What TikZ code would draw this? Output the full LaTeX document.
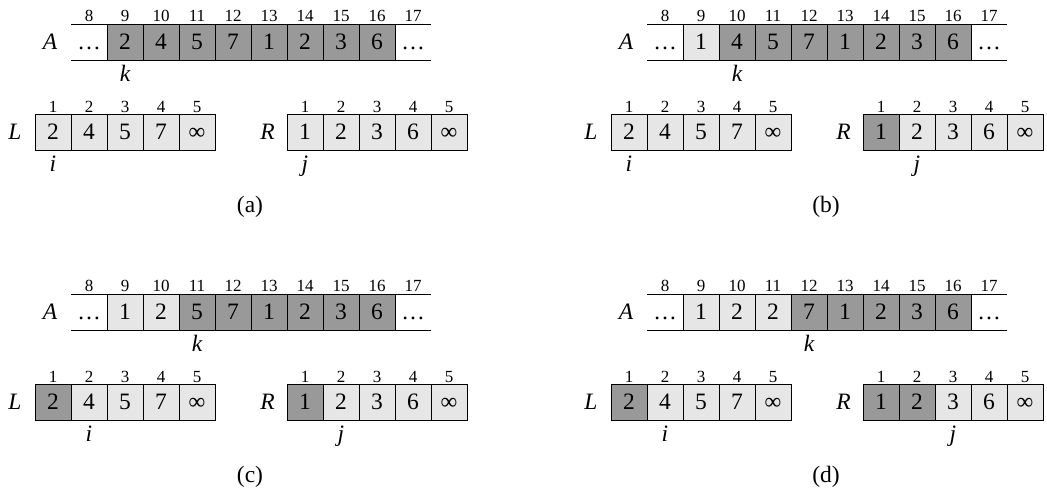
\documentclass[tikz,border=0pt]{standalone}
\usepackage{fontspec}
\setmainfont{Liberation Serif}
\definecolor{dk}{RGB}{153,153,153}
\definecolor{lt}{RGB}{230,230,230}
\tikzset{
 cell/.style={draw=black, line width=1pt, minimum width=36pt, minimum height=36pt,
   inner sep=0pt, outer sep=0pt, text height=14.8pt, text depth=0pt,
   font=\fontsize{23.5}{26}\selectfont},
 endcell/.style={cell, draw=none},
 idx/.style={anchor=base, inner sep=0pt, font=\fontsize{17}{19}\selectfont},
 ptr/.style={anchor=base, inner sep=0pt, font=\fontsize{23.5}{26}\selectfont\itshape},
 arrname/.style={ptr},
 captext/.style={inner sep=0pt, font=\fontsize{23.5}{26}\selectfont},
 rule/.style={line width=1pt}
}
\newcommand\mergepanel[6]{%
 \begin{scope}[shift={#2}]
  \node[endcell] (#1-A8) at (89,-42.4) {\ldots};
  \node[endcell] (#1-A17) at (413,-42.4) {\ldots};
  \draw[rule] (#1-A8.north west) -- (#1-A17.north east);
  \draw[rule] (#1-A8.south west) -- (#1-A17.south east);
  \foreach \n/\v/\f in {#3}
    \node[cell, fill=\f] (#1-A\n) at ({36*\n-199},-42.4) {\v};
  \foreach \n in {8,...,17}
    \node[idx] (#1-iA\n) at ({36*\n-199},-21.5) {\n};
  \foreach \m/\v/\f in {#4}
    \node[cell, fill=\f] (#1-L\m) at ({36*\m+17},-132.5) {\v};
  \foreach \m/\v/\f in {#5}
    \node[cell, fill=\f] (#1-R\m) at ({36*\m+269},-132.5) {\v};
  \foreach \m in {1,...,5} {
    \node[idx] (#1-iL\m) at ({36*\m+17},-112.3) {\m};
    \node[idx] (#1-iR\m) at ({36*\m+269},-112.3) {\m};
  }
  \node[arrname] (#1-An) at (50,-49.5) {A};
  \node[arrname] (#1-Ln) at (15,-139.8) {L};
  \node[arrname] (#1-Rn) at (267.5,-139.8) {R};
  \foreach \kk/\ii/\jj/\lab in {#6} {
    \node[ptr] (#1-k) at ({36*\kk-199},-81) {k};
    \node[ptr] (#1-i) at ({36*\ii+17},-171) {i};
    \node[ptr] (#1-j) at ({36*\jj+269},-171) {j};
    \node[captext] (#1-cap) at (250,-207) {(\lab)};
  }
 \end{scope}}
\begin{document}
\begin{tikzpicture}[x=1pt,y=1pt]
\useasboundingbox (0,0) rectangle (1047,-490);
\mergepanel{pa}{(0,0)}
 {9/2/dk,10/4/dk,11/5/dk,12/7/dk,13/1/dk,14/2/dk,15/3/dk,16/6/dk}
 {1/2/lt,2/4/lt,3/5/lt,4/7/lt,5/∞/lt}
 {1/1/lt,2/2/lt,3/3/lt,4/6/lt,5/∞/lt}
 {9/1/1/a}
\mergepanel{pb}{(576,0)}
 {9/1/lt,10/4/dk,11/5/dk,12/7/dk,13/1/dk,14/2/dk,15/3/dk,16/6/dk}
 {1/2/lt,2/4/lt,3/5/lt,4/7/lt,5/∞/lt}
 {1/1/dk,2/2/lt,3/3/lt,4/6/lt,5/∞/lt}
 {10/1/2/b}
\mergepanel{pc}{(0,-270)}
 {9/1/lt,10/2/lt,11/5/dk,12/7/dk,13/1/dk,14/2/dk,15/3/dk,16/6/dk}
 {1/2/dk,2/4/lt,3/5/lt,4/7/lt,5/∞/lt}
 {1/1/dk,2/2/lt,3/3/lt,4/6/lt,5/∞/lt}
 {11/2/2/c}
\mergepanel{pd}{(576,-270)}
 {9/1/lt,10/2/lt,11/2/lt,12/7/dk,13/1/dk,14/2/dk,15/3/dk,16/6/dk}
 {1/2/dk,2/4/lt,3/5/lt,4/7/lt,5/∞/lt}
 {1/1/dk,2/2/dk,3/3/lt,4/6/lt,5/∞/lt}
 {12/2/3/d}
\end{tikzpicture}
\end{document}
